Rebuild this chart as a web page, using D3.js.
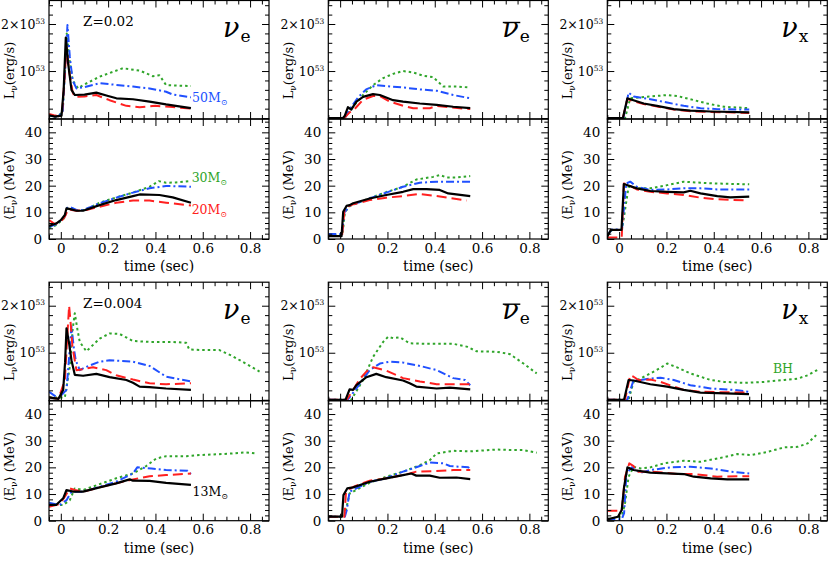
<!DOCTYPE html>
<html><head><meta charset="utf-8">
<script src="https://cdn.jsdelivr.net/npm/d3@7"></script>
<style>body{margin:0;background:#fff}svg{display:block}</style>
</head><body><svg id="c" width="830" height="561"></svg>
<script>
// ---------------- DATA: [time (s), value] ----------------
// Z = 0.02, nu_e, luminosity (1e53 erg/s)
const z02_nue_L_m13 = [[-0.05,0.06],[-0.025,0.03],[0.003,0.05],[0.012,0.6],[0.021,1.71],[0.03,1.2],[0.045,0.6],[0.059,0.49],[0.1,0.5],[0.15,0.54],[0.2,0.47],[0.235,0.42],[0.305,0.40],[0.375,0.35],[0.445,0.29],[0.5,0.25],[0.55,0.21]];
const z02_nue_L_m20 = [[-0.05,0.085],[-0.03,0.06],[-0.01,0.04],[0.005,0.1],[0.015,0.8],[0.024,1.52],[0.035,1.0],[0.05,0.55],[0.059,0.45],[0.1,0.46],[0.15,0.49],[0.206,0.38],[0.277,0.26],[0.333,0.23],[0.4,0.26],[0.46,0.24],[0.55,0.2]];
const z02_nue_L_m30 = [[-0.05,0.04],[-0.01,0.03],[0.008,0.15],[0.017,1.0],[0.025,1.8],[0.035,1.3],[0.05,0.8],[0.073,0.63],[0.094,0.7],[0.164,0.88],[0.262,1.06],[0.333,1.01],[0.389,0.89],[0.417,0.91],[0.445,0.7],[0.55,0.68]];
const z02_nue_L_m50 = [[-0.05,0.05],[-0.01,0.03],[0.008,0.15],[0.018,1.0],[0.028,1.98],[0.038,1.3],[0.05,0.8],[0.066,0.63],[0.1,0.66],[0.164,0.74],[0.206,0.72],[0.305,0.67],[0.375,0.63],[0.445,0.56],[0.473,0.5],[0.55,0.44]];
// Z = 0.02, nu_e, mean energy (MeV)
const z02_nue_E_m13 = [[-0.05,4.9],[-0.02,5.8],[0,7.1],[0.017,9.0],[0.024,11.5],[0.04,11.2],[0.066,10.6],[0.094,10.6],[0.164,12.7],[0.234,14.6],[0.305,16.1],[0.333,16.7],[0.417,16.5],[0.473,15.6],[0.55,13.6]];
const z02_nue_E_m20 = [[-0.05,7.1],[-0.025,5.6],[0,6.5],[0.017,8.4],[0.031,11.1],[0.066,10.6],[0.108,10.9],[0.164,12.1],[0.234,13.6],[0.305,14.4],[0.375,14.4],[0.445,13.6],[0.55,12.6]];
const z02_nue_E_m30 = [[-0.05,4.0],[-0.02,5.2],[0.017,8.0],[0.027,11.5],[0.045,11.6],[0.073,10.6],[0.1,10.9],[0.164,13.6],[0.234,15.6],[0.305,17.4],[0.375,19.6],[0.414,21.7],[0.445,21.1],[0.487,21.2],[0.55,21.7]];
const z02_nue_E_m50 = [[-0.05,4.6],[-0.02,5.5],[0.017,8.4],[0.027,11.7],[0.041,11.9],[0.073,10.6],[0.094,10.9],[0.164,13.4],[0.234,15.5],[0.305,17.4],[0.375,19.0],[0.445,19.9],[0.55,19.6]];
// Z = 0.02, anti nu_e
const z02_nueb_L_m13 = [[-0.05,0],[0.012,0],[0.02,0.05],[0.033,0.23],[0.047,0.18],[0.069,0.35],[0.097,0.45],[0.139,0.51],[0.168,0.49],[0.224,0.38],[0.266,0.35],[0.337,0.31],[0.408,0.28],[0.478,0.24],[0.55,0.21]];
const z02_nueb_L_m20 = [[-0.05,0],[0.015,0],[0.025,0.04],[0.04,0.12],[0.061,0.19],[0.097,0.39],[0.139,0.47],[0.168,0.47],[0.21,0.35],[0.266,0.26],[0.309,0.21],[0.379,0.21],[0.408,0.26],[0.464,0.23],[0.55,0.19]];
const z02_nueb_L_m30 = [[-0.05,0],[0.018,0],[0.025,0.04],[0.054,0.24],[0.097,0.49],[0.139,0.7],[0.182,0.85],[0.224,0.94],[0.266,1.0],[0.309,0.97],[0.351,0.9],[0.393,0.87],[0.436,0.67],[0.492,0.67],[0.55,0.65]];
const z02_nueb_L_m50 = [[-0.05,0],[0.015,0],[0.025,0.04],[0.04,0.19],[0.076,0.44],[0.11,0.61],[0.153,0.7],[0.195,0.68],[0.266,0.65],[0.337,0.61],[0.408,0.58],[0.478,0.49],[0.55,0.42]];
const z02_nueb_E_m13 = [[-0.05,1.1],[0.006,1.1],[0.013,10.2],[0.027,12.4],[0.04,12.7],[0.055,13.4],[0.125,15.2],[0.195,16.5],[0.266,17.7],[0.309,18.7],[0.365,18.7],[0.421,18.4],[0.457,17.1],[0.55,16.1]];
const z02_nueb_E_m20 = [[-0.05,1.1],[0.008,1.1],[0.018,10.5],[0.03,12.1],[0.055,13.0],[0.125,14.6],[0.195,15.5],[0.266,16.1],[0.337,16.9],[0.408,16.1],[0.478,15.2],[0.535,14.4]];
const z02_nueb_E_m30 = [[-0.05,1.5],[0.01,1.5],[0.02,10],[0.04,12.3],[0.125,15.3],[0.195,17.6],[0.266,19.6],[0.322,22.3],[0.393,23.3],[0.421,24],[0.45,23.1],[0.492,23.1],[0.55,23.6]];
const z02_nueb_E_m50 = [[-0.05,1.9],[0.008,1.9],[0.018,10.0],[0.04,12.4],[0.125,15.2],[0.195,17.4],[0.266,19.6],[0.337,21.1],[0.408,21.5],[0.55,21.5]];
// Z = 0.02, nu_x
const z02_nux_L_m13 = [[-0.05,0],[0.016,0],[0.035,0.42],[0.047,0.4],[0.104,0.31],[0.16,0.26],[0.231,0.19],[0.301,0.16],[0.387,0.14],[0.55,0.12]];
const z02_nux_L_m20 = [[-0.05,0],[0.016,0],[0.035,0.41],[0.047,0.38],[0.104,0.3],[0.231,0.18],[0.315,0.14],[0.55,0.11]];
const z02_nux_L_m30 = [[-0.05,0],[0.025,0],[0.047,0.42],[0.104,0.45],[0.16,0.47],[0.203,0.49],[0.245,0.47],[0.301,0.4],[0.372,0.31],[0.443,0.24],[0.55,0.21]];
const z02_nux_L_m50 = [[-0.05,0],[0.018,0],[0.04,0.54],[0.061,0.46],[0.132,0.4],[0.203,0.33],[0.273,0.26],[0.344,0.21],[0.415,0.19],[0.55,0.18]];
const z02_nux_E_m13 = [[-0.05,1.0],[-0.035,3.4],[0.01,3.4],[0.02,20.6],[0.075,19.0],[0.132,18.0],[0.203,17.7],[0.273,17.5],[0.301,18.1],[0.344,17.1],[0.415,16.1],[0.47,15.6],[0.55,15.9]];
const z02_nux_E_m20 = [[-0.05,0.6],[0.011,0.6],[0.02,20.8],[0.04,20.2],[0.075,18.6],[0.132,17.7],[0.203,17.1],[0.273,16.5],[0.344,15.5],[0.415,14.9],[0.53,14.5]];
const z02_nux_E_m30 = [[-0.05,1.1],[-0.03,3.4],[0.012,3.4],[0.04,19.6],[0.075,19.0],[0.132,19.0],[0.203,20.2],[0.273,21.5],[0.344,21.1],[0.415,20.8],[0.55,20.5]];
const z02_nux_E_m50 = [[-0.05,1.5],[-0.03,3.6],[0.012,3.6],[0.03,20.8],[0.047,21.5],[0.075,19.6],[0.132,18.4],[0.203,18.6],[0.273,19.0],[0.344,19.0],[0.415,18.6],[0.55,18.6]];
// Z = 0.004, nu_e
const z004_nue_L_m13 = [[-0.05,0.05],[-0.01,0.02],[0.01,0.21],[0.018,0.8],[0.024,1.52],[0.035,1.2],[0.045,0.84],[0.059,0.53],[0.094,0.51],[0.15,0.55],[0.206,0.48],[0.277,0.42],[0.305,0.36],[0.333,0.28],[0.375,0.27],[0.445,0.24],[0.55,0.21]];
const z004_nue_L_m20 = [[-0.05,0.05],[-0.01,0.02],[0.017,0.42],[0.028,1.4],[0.035,2.0],[0.042,1.6],[0.049,1.13],[0.066,0.63],[0.094,0.65],[0.136,0.69],[0.192,0.63],[0.234,0.52],[0.305,0.43],[0.375,0.35],[0.445,0.33],[0.55,0.35]];
const z004_nue_L_m30 = [[-0.05,0.05],[0.017,0.05],[0.038,0.7],[0.05,1.5],[0.059,1.84],[0.07,1.5],[0.08,1.23],[0.108,1.03],[0.164,1.3],[0.206,1.41],[0.248,1.4],[0.305,1.25],[0.375,1.23],[0.473,1.23],[0.53,1.21],[0.543,1.07],[0.585,1.06],[0.669,1.06],[0.725,0.93],[0.781,0.77],[0.84,0.6]];
const z004_nue_L_m50 = [[-0.05,0.17],[-0.01,0.03],[0.024,0.21],[0.035,0.9],[0.045,1.56],[0.055,1.1],[0.063,0.84],[0.08,0.63],[0.108,0.7],[0.164,0.81],[0.206,0.84],[0.305,0.81],[0.375,0.72],[0.445,0.49],[0.55,0.39]];
const z004_nue_E_m13 = [[-0.05,5.9],[-0.02,5.9],[0.01,8.4],[0.024,11.5],[0.052,10.9],[0.094,10.9],[0.164,12.5],[0.234,14.0],[0.291,15.5],[0.305,15.0],[0.375,14.9],[0.445,14.2],[0.55,13.4]];
const z004_nue_E_m20 = [[-0.05,5.2],[-0.005,6.2],[0.017,9.0],[0.038,12.1],[0.059,11.5],[0.094,10.9],[0.164,12.5],[0.234,14.0],[0.305,15.5],[0.375,16.7],[0.445,17.1],[0.55,17.7]];
const z004_nue_E_m30 = [[-0.05,5.9],[0.01,5.9],[0.038,7.7],[0.059,12.1],[0.094,11.5],[0.164,13.7],[0.234,15.9],[0.305,17.7],[0.361,20.5],[0.403,23.3],[0.445,24.2],[0.53,24.2],[0.585,24.6],[0.725,25.2],[0.781,25.6],[0.824,25.2]];
const z004_nue_E_m50 = [[-0.05,6.7],[-0.005,5.9],[0.024,7.7],[0.045,10.9],[0.094,10.9],[0.164,12.7],[0.234,14.6],[0.305,17.7],[0.323,20.0],[0.383,19.6],[0.445,19.0],[0.536,18.7],[0.55,17.5]];
// Z = 0.004, anti nu_e
const z004_nueb_L_m13 = [[-0.05,0],[0.023,0],[0.04,0.22],[0.055,0.21],[0.069,0.31],[0.111,0.48],[0.153,0.55],[0.195,0.48],[0.266,0.41],[0.294,0.35],[0.322,0.28],[0.408,0.24],[0.464,0.26],[0.55,0.22]];
const z004_nueb_L_m20 = [[-0.05,0],[0.028,0],[0.055,0.21],[0.083,0.44],[0.111,0.6],[0.139,0.69],[0.195,0.62],[0.266,0.46],[0.337,0.39],[0.408,0.33],[0.55,0.33]];
const z004_nueb_L_m30 = [[-0.05,0],[0.047,0],[0.097,0.42],[0.139,0.91],[0.182,1.23],[0.203,1.34],[0.224,1.31],[0.252,1.33],[0.294,1.2],[0.365,1.19],[0.478,1.19],[0.535,1.13],[0.577,1.03],[0.662,1.02],[0.718,0.97],[0.775,0.77],[0.831,0.56]];
const z004_nueb_L_m50 = [[-0.05,0],[0.032,0],[0.069,0.24],[0.097,0.44],[0.125,0.63],[0.168,0.77],[0.21,0.81],[0.266,0.79],[0.337,0.72],[0.408,0.63],[0.478,0.46],[0.528,0.42],[0.55,0.31]];
const z004_nueb_E_m13 = [[-0.05,1.5],[0.008,1.5],[0.014,9.6],[0.03,12.1],[0.055,12.5],[0.125,14.6],[0.195,15.9],[0.266,17.1],[0.301,17.7],[0.322,16.9],[0.379,16.9],[0.421,16.1],[0.492,16.2],[0.55,15.6]];
const z004_nueb_E_m20 = [[-0.05,1.5],[0.018,1.5],[0.025,10.9],[0.055,12.7],[0.125,15.0],[0.195,15.9],[0.266,17.1],[0.294,17.7],[0.322,18.4],[0.408,18.6],[0.478,19.0],[0.55,19.0]];
const z004_nueb_E_m30 = [[-0.05,1.5],[0.018,1.5],[0.04,10.2],[0.125,14.2],[0.195,16.5],[0.266,18.4],[0.337,20.8],[0.379,22.7],[0.408,25.2],[0.478,26.2],[0.549,26.0],[0.662,26.7],[0.718,26.5],[0.775,26.5],[0.831,25.5]];
const z004_nueb_E_m50 = [[-0.05,1.5],[0.02,1.5],[0.028,3.9],[0.04,10.9],[0.125,14.6],[0.195,15.9],[0.266,18.4],[0.337,20.5],[0.379,21.8],[0.436,21.5],[0.464,20.5],[0.542,20.0],[0.55,19.0]];
// Z = 0.004, nu_x
const z004_nux_L_m13 = [[-0.05,0],[0.021,0],[0.04,0.42],[0.061,0.41],[0.132,0.33],[0.203,0.28],[0.273,0.21],[0.344,0.15],[0.415,0.14],[0.549,0.12]];
const z004_nux_L_m20 = [[-0.05,0],[0.025,0],[0.047,0.52],[0.061,0.49],[0.082,0.42],[0.132,0.43],[0.175,0.38],[0.231,0.28],[0.273,0.21],[0.344,0.17],[0.549,0.15]];
const z004_nux_L_m30 = [[-0.05,0],[0.04,0],[0.061,0.38],[0.09,0.45],[0.132,0.56],[0.175,0.68],[0.203,0.77],[0.245,0.69],[0.301,0.56],[0.387,0.42],[0.443,0.38],[0.528,0.36],[0.613,0.38],[0.698,0.42],[0.755,0.45],[0.797,0.52],[0.84,0.64]];
const z004_nux_L_m50 = [[-0.05,0],[0.035,0],[0.061,0.42],[0.09,0.42],[0.132,0.45],[0.175,0.47],[0.231,0.42],[0.301,0.31],[0.387,0.24],[0.486,0.21],[0.549,0.17]];
const z004_nux_E_m13 = [[-0.05,0.5],[-0.005,1.5],[0.011,4.0],[0.021,12.7],[0.035,20.0],[0.061,19.0],[0.132,18.0],[0.273,17.5],[0.316,16.5],[0.387,15.9],[0.457,15.5],[0.55,15.5]];
const z004_nux_E_m20 = [[-0.05,3.7],[0.011,3.7],[0.025,16.5],[0.043,21.5],[0.061,20.5],[0.075,18.4],[0.132,18.4],[0.189,18.0],[0.245,17.5],[0.316,17.5],[0.415,16.5],[0.55,16.7]];
const z004_nux_E_m30 = [[-0.05,0.5],[0.011,1.7],[0.025,6.5],[0.04,16.5],[0.061,20.2],[0.09,19.6],[0.132,20.0],[0.189,21.5],[0.273,22.5],[0.344,22.1],[0.415,23.3],[0.5,25.0],[0.557,24.6],[0.627,25.8],[0.698,27.5],[0.755,27.7],[0.797,29.0],[0.833,32.1]];
const z004_nux_E_m50 = [[-0.05,0.5],[0.011,0.5],[0.021,2.8],[0.031,17.7],[0.054,20.0],[0.09,18.0],[0.132,19.0],[0.215,20.0],[0.301,20.2],[0.387,19.6],[0.472,18.4],[0.55,17.7]];

// Axis ticks / labels
const xMajorTicks = [0, 0.2, 0.4, 0.6, 0.8];
const xTickLabels = ["0", "0.2", "0.4", "0.6", "0.8"];
const eMajorTicks = [0, 10, 20, 30, 40];
const lMajorTicks = [1, 2];
const lTickMantissa = ["", "2\u00d7"];
const metallicities = ["0.02", "0.004"];
const flavorNames = ["nue", "nueb", "nux"];
const massNames = ["30", "50", "20", "13"]; // drawing order

// ---------------- LAYOUT ----------------
const svg = d3.select("#c");
const FONT = "'DejaVu Serif', serif";
const colLeft = [49, 328.3, 607.3];
const W = 220, LH = 118.5, EH = 120;
const groupTop = [0.5, 282.2];
const seriesStyle = {
  "13": {color: "#000000", dash: null, w: 2.2},
  "20": {color: "#ff2020", dash: "10,5", w: 2},
  "30": {color: "#2fa52a", dash: "2.5,3", w: 2},
  "50": {color: "#2050ff", dash: "8,3,2,3", w: 2}
};
const dataSets = {
  z02_nue_L: [z02_nue_L_m13, z02_nue_L_m20, z02_nue_L_m30, z02_nue_L_m50],
  z02_nue_E: [z02_nue_E_m13, z02_nue_E_m20, z02_nue_E_m30, z02_nue_E_m50],
  z02_nueb_L: [z02_nueb_L_m13, z02_nueb_L_m20, z02_nueb_L_m30, z02_nueb_L_m50],
  z02_nueb_E: [z02_nueb_E_m13, z02_nueb_E_m20, z02_nueb_E_m30, z02_nueb_E_m50],
  z02_nux_L: [z02_nux_L_m13, z02_nux_L_m20, z02_nux_L_m30, z02_nux_L_m50],
  z02_nux_E: [z02_nux_E_m13, z02_nux_E_m20, z02_nux_E_m30, z02_nux_E_m50],
  z004_nue_L: [z004_nue_L_m13, z004_nue_L_m20, z004_nue_L_m30, z004_nue_L_m50],
  z004_nue_E: [z004_nue_E_m13, z004_nue_E_m20, z004_nue_E_m30, z004_nue_E_m50],
  z004_nueb_L: [z004_nueb_L_m13, z004_nueb_L_m20, z004_nueb_L_m30, z004_nueb_L_m50],
  z004_nueb_E: [z004_nueb_E_m13, z004_nueb_E_m20, z004_nueb_E_m30, z004_nueb_E_m50],
  z004_nux_L: [z004_nux_L_m13, z004_nux_L_m20, z004_nux_L_m30, z004_nux_L_m50],
  z004_nux_E: [z004_nux_E_m13, z004_nux_E_m20, z004_nux_E_m30, z004_nux_E_m50]
};
const massIndex = {"13": 0, "20": 1, "30": 2, "50": 3};

const xMinor = d3.range(-1, 18).map(i => +(i * 0.05).toFixed(2)).filter(v => !xMajorTicks.includes(v));
const eMinor = d3.range(0, 23).map(i => i * 2).filter(v => v % 10 !== 0);
const lMinor = d3.range(0, 13).map(i => +(i * 0.2).toFixed(1)).filter(v => v % 1 !== 0);

let clipId = 0;
function frameAxes(g, x, y, left, top, w, h, yMajor, yMinor, showX) {
  const tk = (axis, sel, size) => {
    sel.call(axis.tickSize(size));
    sel.select(".domain").remove();
    sel.selectAll("line").attr("stroke", "#000").attr("stroke-width", 1);
  };
  const b = g.append("g").attr("transform", `translate(0,${top + h})`);
  tk(d3.axisBottom(x).tickValues(xMajorTicks).tickPadding(4)
      .tickFormat((d, i) => showX ? xTickLabels[i] : ""), b, -7);
  b.selectAll("text").attr("font-family", FONT).attr("font-size", 13.5).attr("fill", "#000");
  tk(d3.axisBottom(x).tickValues(xMinor).tickFormat(""), g.append("g").attr("transform", `translate(0,${top + h})`), -4);
  tk(d3.axisTop(x).tickValues(xMajorTicks).tickFormat(""), g.append("g").attr("transform", `translate(0,${top})`), -7);
  tk(d3.axisTop(x).tickValues(xMinor).tickFormat(""), g.append("g").attr("transform", `translate(0,${top})`), -4);
  tk(d3.axisLeft(y).tickValues(yMajor).tickFormat(""), g.append("g").attr("transform", `translate(${left},0)`), -7);
  tk(d3.axisLeft(y).tickValues(yMinor).tickFormat(""), g.append("g").attr("transform", `translate(${left},0)`), -4);
  tk(d3.axisRight(y).tickValues(yMajor).tickFormat(""), g.append("g").attr("transform", `translate(${left + w},0)`), -7);
  tk(d3.axisRight(y).tickValues(yMinor).tickFormat(""), g.append("g").attr("transform", `translate(${left + w},0)`), -4);
}

function drawLines(g, x, y, key, left, top, w, h) {
  const id = "clip" + (clipId++);
  g.append("clipPath").attr("id", id).append("rect")
    .attr("x", left).attr("y", top).attr("width", w).attr("height", h);
  const line = d3.line().x(d => x(d[0])).y(d => y(d[1]));
  const lg = g.append("g").attr("clip-path", `url(#${id})`);
  massNames.forEach(m => {
    const st = seriesStyle[m];
    lg.append("path").datum(dataSets[key][massIndex[m]])
      .attr("d", line).attr("fill", "none")
      .attr("stroke", st.color).attr("stroke-width", st.w)
      .attr("stroke-dasharray", st.dash)
      .attr("stroke-linejoin", "round");
  });
}

function flavorTitle(g, left, top, f) {
  const t = g.append("text").attr("x", left + 174).attr("y", top + 36.5)
    .attr("font-family", FONT).attr("fill", "#000");
  t.append("tspan").attr("font-size", 27).attr("font-style", "italic").text("\u03bd");
  t.append("tspan").attr("font-size", 17).attr("dx", 1).attr("dy", 5)
    .text(f === "nux" ? "x" : "e");
  if (f === "nueb") {
    g.append("line").attr("x1", left + 174.5).attr("x2", left + 192)
      .attr("y1", top + 22).attr("y2", top + 22)
      .attr("stroke", "#000").attr("stroke-width", 1.4);
  }
}

groupTop.forEach((gt, gi) => {
  const zkey = gi === 0 ? "z02" : "z004";
  colLeft.forEach((cl, ci) => {
    const f = flavorNames[ci];
    const g = svg.append("g");
    const x = d3.scaleLinear().domain([-0.05, 0.88]).range([cl, cl + W]);
    const yL = d3.scaleLinear().domain([-0.02, 2.5]).range([gt + LH, gt]);
    const yE = d3.scaleLinear().domain([0, 45]).range([gt + LH + EH, gt + LH]);

    drawLines(g, x, yL, `${zkey}_${f}_L`, cl, gt, W, LH);
    drawLines(g, x, yE, `${zkey}_${f}_E`, cl, gt + LH, W, EH);

    frameAxes(g, x, yL, cl, gt, W, LH, [0, 1, 2], lMinor, false);
    frameAxes(g, x, yE, cl, gt + LH, W, EH, eMajorTicks, eMinor, true);

    g.append("rect").attr("x", cl).attr("y", gt).attr("width", W).attr("height", LH)
      .attr("fill", "none").attr("stroke", "#000").attr("stroke-width", 1.2);
    g.append("rect").attr("x", cl).attr("y", gt + LH).attr("width", W).attr("height", EH)
      .attr("fill", "none").attr("stroke", "#000").attr("stroke-width", 1.2);

    lMajorTicks.forEach((v, i) => {
      const t = g.append("text").attr("x", cl - 4).attr("y", yL(v) + 4.5)
        .attr("text-anchor", "end").attr("font-family", FONT).attr("font-size", 12.5).attr("fill", "#000");
      t.append("tspan").text(lTickMantissa[i] + "10");
      t.append("tspan").attr("font-size", 7.5).attr("dy", -5).text("53");
    });
    eMajorTicks.forEach(v => {
      g.append("text").attr("x", cl - 7).attr("y", yE(v) + 5)
        .attr("text-anchor", "end").attr("font-family", FONT).attr("font-size", 13.5)
        .attr("fill", "#000").text(v);
    });
    const ly = gt + 70;
    const tl = g.append("text").attr("transform", `translate(${cl - 35},${ly}) rotate(-90)`)
      .attr("text-anchor", "middle").attr("font-family", FONT).attr("font-size", 13).attr("fill", "#000");
    tl.append("tspan").text("L");
    tl.append("tspan").attr("font-size", 9).attr("dy", 3).text("\u03bd");
    tl.append("tspan").attr("dy", -3).text("(erg/s)");
    const ey = gt + LH + 66;
    const te = g.append("text").attr("transform", `translate(${cl - 35},${ey}) rotate(-90)`)
      .attr("text-anchor", "middle").attr("font-family", FONT).attr("font-size", 13).attr("fill", "#000");
    te.append("tspan").text("\u27e8E");
    te.append("tspan").attr("font-size", 9).attr("dy", 3).text("\u03bd");
    te.append("tspan").attr("dy", -3).text("\u27e9 (MeV)");
    g.append("text").attr("x", cl + W / 2).attr("y", gt + LH + EH + 32)
      .attr("text-anchor", "middle").attr("font-family", FONT).attr("font-size", 14)
      .attr("fill", "#000").text("time (sec)");

    flavorTitle(g, cl, gt, f);
    if (ci === 0) {
      g.append("text").attr("x", cl + 34).attr("y", gt + 25.5)
        .attr("font-family", FONT).attr("font-size", 13.5).attr("fill", "#000")
        .text("Z=" + metallicities[gi]);
    }
  });
});

function massLabel(x, y, txt, color) {
  const t = svg.append("text").attr("x", x).attr("y", y).attr("font-family", FONT)
    .attr("font-size", 12.5).attr("fill", color);
  t.append("tspan").text(txt);
  t.append("tspan").attr("font-size", 8).attr("dy", 3).text("\u2299");
}
{
  const x = d3.scaleLinear().domain([-0.05, 0.88]).range([colLeft[0], colLeft[0] + W]);
  const yL1 = d3.scaleLinear().domain([-0.02, 2.5]).range([groupTop[0] + LH, groupTop[0]]);
  const yE1 = d3.scaleLinear().domain([0, 45]).range([groupTop[0] + LH + EH, groupTop[0] + LH]);
  const yE2 = d3.scaleLinear().domain([0, 45]).range([groupTop[1] + LH + EH, groupTop[1] + LH]);
  massLabel(x(0.555), yL1(0.34), "50M", seriesStyle["50"].color);
  massLabel(x(0.553), yE1(21.4), "30M", seriesStyle["30"].color);
  massLabel(x(0.553), yE1(9.4), "20M", seriesStyle["20"].color);
  massLabel(x(0.557), yE2(9.3), "13M", seriesStyle["13"].color);
  const x3 = d3.scaleLinear().domain([-0.05, 0.88]).range([colLeft[2], colLeft[2] + W]);
  const yL2 = d3.scaleLinear().domain([-0.02, 2.5]).range([groupTop[1] + LH, groupTop[1]]);
  svg.append("text").attr("x", x3(0.65)).attr("y", yL2(0.57)).attr("font-family", FONT)
    .attr("font-size", 12.5).attr("fill", seriesStyle["30"].color).text("BH");
}
</script>
</body></html>
